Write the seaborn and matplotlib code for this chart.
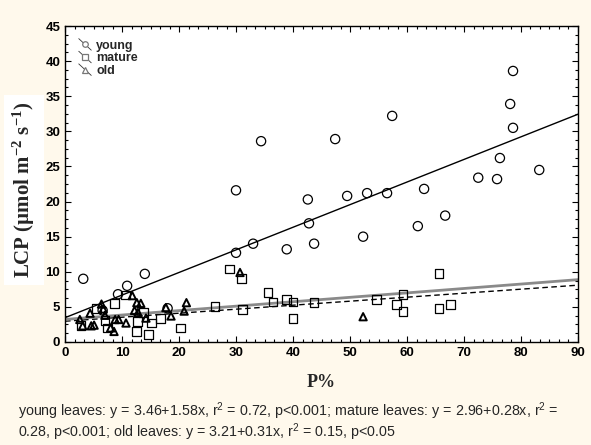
import numpy as np
import pandas as pd
import matplotlib
matplotlib.use("Agg")
import matplotlib.pyplot as plt
import seaborn as sns
from matplotlib.lines import Line2D
from matplotlib.legend_handler import HandlerBase
from matplotlib.ticker import MultipleLocator, AutoMinorLocator

# P% and LCP values per leaf age
young_p = [3.2, 6.6, 9.3, 10.9, 14.0, 18.0, 30.0, 33.0, 38.9, 30.0, 34.4, 42.6, 42.8, 43.7,
           47.4, 49.5, 52.3, 53.0, 56.5, 57.4, 61.9, 63.0, 66.7, 72.5, 75.8, 76.3, 78.1,
           78.6, 78.6, 83.2]
young_lcp = [9.0, 4.5, 6.8, 8.0, 9.7, 4.8, 12.7, 14.0, 13.2, 21.6, 28.6, 20.3, 16.9, 14.0,
             28.9, 20.8, 15.0, 21.2, 21.2, 32.2, 16.5, 21.8, 18.0, 23.4, 23.2, 26.2, 33.9,
             38.6, 30.5, 24.5]

mature_p = [2.8, 5.5, 7.0, 7.5, 8.7, 10.6, 12.6, 12.7, 13.8, 14.6, 15.2, 16.8, 20.2, 26.3,
            28.8, 30.9, 31.1, 35.6, 36.5, 38.8, 40.0, 40.0, 43.7, 54.6, 58.1, 59.3, 59.3,
            65.6, 65.6, 67.7]
mature_lcp = [2.3, 4.8, 3.1, 2.0, 5.5, 6.7, 1.5, 2.9, 4.2, 1.1, 2.7, 3.4, 2.0, 5.0,
              10.4, 9.0, 4.6, 7.0, 5.7, 6.1, 5.7, 3.3, 5.6, 6.0, 5.3, 6.8, 4.3,
              9.8, 4.8, 5.3]

old_p = [2.6, 3.1, 4.4, 4.6, 5.1, 6.4, 6.7, 7.0, 8.0, 8.6, 8.8, 9.4, 10.7, 11.8, 12.2,
         12.6, 13.3, 12.8, 14.2, 17.7, 18.6, 20.9, 21.3, 30.7, 52.3]
old_lcp = [3.2, 2.3, 4.1, 2.3, 2.4, 5.4, 4.7, 3.8, 2.0, 1.5, 3.2, 3.2, 2.7, 6.6, 4.5,
           5.6, 5.5, 4.2, 3.4, 4.9, 3.7, 4.4, 5.6, 9.9, 3.6]

# fitted lines drawn over the P% axis
groups = ["young", "mature", "old"]
fit_intercept = [3.46, 2.96, 3.21]
fit_slope = [0.322, 0.057, 0.063]

caption = ("young leaves: y = 3.46+1.58x, r$^2$ = 0.72, p<0.001; mature leaves: y = 2.96+0.28x, r$^2$ =\n"
           "0.28, p<0.001; old leaves: y = 3.21+0.31x, r$^2$ = 0.15, p<0.05")

sns.set_style("ticks")
plt.rcParams["font.family"] = ["Liberation Sans", "DejaVu Sans"]
plt.rcParams["mathtext.default"] = "regular"

cream = "#FFF9EC"
fig = plt.figure(figsize=(5.91, 4.45), dpi=100, facecolor=cream)
ax = fig.add_axes([0.110, 0.2315, 0.868, 0.710])
ax.set_facecolor("white")

points = pd.concat([
    pd.DataFrame({"P": young_p, "LCP": young_lcp, "age": "young"}),
    pd.DataFrame({"P": mature_p, "LCP": mature_lcp, "age": "mature"}),
    pd.DataFrame({"P": old_p, "LCP": old_lcp, "age": "old"}),
])

marker_style = {"young": ("o", 44, 0.9), "mature": ("s", 40, 0.9), "old": ("^", 28, 1.4)}
for g in ["mature", "young", "old"]:
    m, s, lw = marker_style[g]
    sns.scatterplot(data=points[points.age == g], x="P", y="LCP", marker=m, s=s,
                    facecolors="none", edgecolor="black", linewidth=lw, ax=ax,
                    legend=False, zorder=3)

xs = np.array([0.0, 90.0])
line_style = {"young": dict(color="black", lw=1.0, ls="-"),
              "mature": dict(color="black", lw=1.0, ls=(0, (4, 2.5))),
              "old": dict(color="#8a8a8a", lw=2.0, ls="-")}
for g, b0, b1 in zip(groups, fit_intercept, fit_slope):
    sns.lineplot(x=xs, y=b0 + b1 * xs, ax=ax, zorder=2, **line_style[g])

ax.set_xlim(0, 90)
ax.set_ylim(0, 45)
ax.xaxis.set_major_locator(MultipleLocator(10))
ax.yaxis.set_major_locator(MultipleLocator(5))
ax.xaxis.set_minor_locator(AutoMinorLocator(6))
ax.yaxis.set_minor_locator(AutoMinorLocator(4))
ax.tick_params(which="both", direction="in", top=True, right=True, colors="black",
               labelsize=9.5, width=0.8)
ax.tick_params(which="major", length=4)
ax.tick_params(which="minor", length=2)
for lab in ax.get_xticklabels() + ax.get_yticklabels():
    lab.set_fontweight("bold")
for sp in ax.spines.values():
    sp.set_visible(True)
    sp.set_linewidth(1.0)
    sp.set_color("black")

ax.set_xlabel("P%", family="Liberation Serif", fontweight="bold", fontsize=13, labelpad=11)
ax.set_ylabel("LCP (µmol m$^{-2}$ s$^{-1}$)", family="Liberation Serif", fontweight="bold",
              fontsize=15, bbox=dict(facecolor="white", edgecolor="none", pad=5))
ax.yaxis.set_label_coords(-0.055, 0.48)


class DiagonalHandler(HandlerBase):
    def create_artists(self, legend, orig_handle, xdescent, ydescent, width, height,
                       fontsize, trans):
        x0, x1 = -xdescent, -xdescent + width
        y0, y1 = -ydescent, -ydescent + height
        stroke = Line2D([x0, x1], [y1 + 1, y0 - 1], color="#333333", lw=0.6,
                        transform=trans)
        mark = Line2D([(x0 + x1) / 2], [(y0 + y1) / 2], marker=orig_handle.get_marker(),
                      ms=4, mfc="white", mec="#777777", mew=0.9, ls="none",
                      transform=trans)
        return [stroke, mark]


handles = [Line2D([], [], marker=m) for m in ["o", "s", "^"]]
leg = ax.legend(handles, groups, loc="upper left", frameon=False, handlelength=1.0,
                handletextpad=0.4, labelspacing=0.05, borderaxespad=0.7,
                prop=dict(weight="bold", size=9),
                handler_map={Line2D: DiagonalHandler()})

fig.text(0.030, 1 - 400 / 445, caption, fontsize=10.3, va="top", ha="left",
         linespacing=0.98)

fig.savefig("out.png", dpi=100, facecolor=cream)
